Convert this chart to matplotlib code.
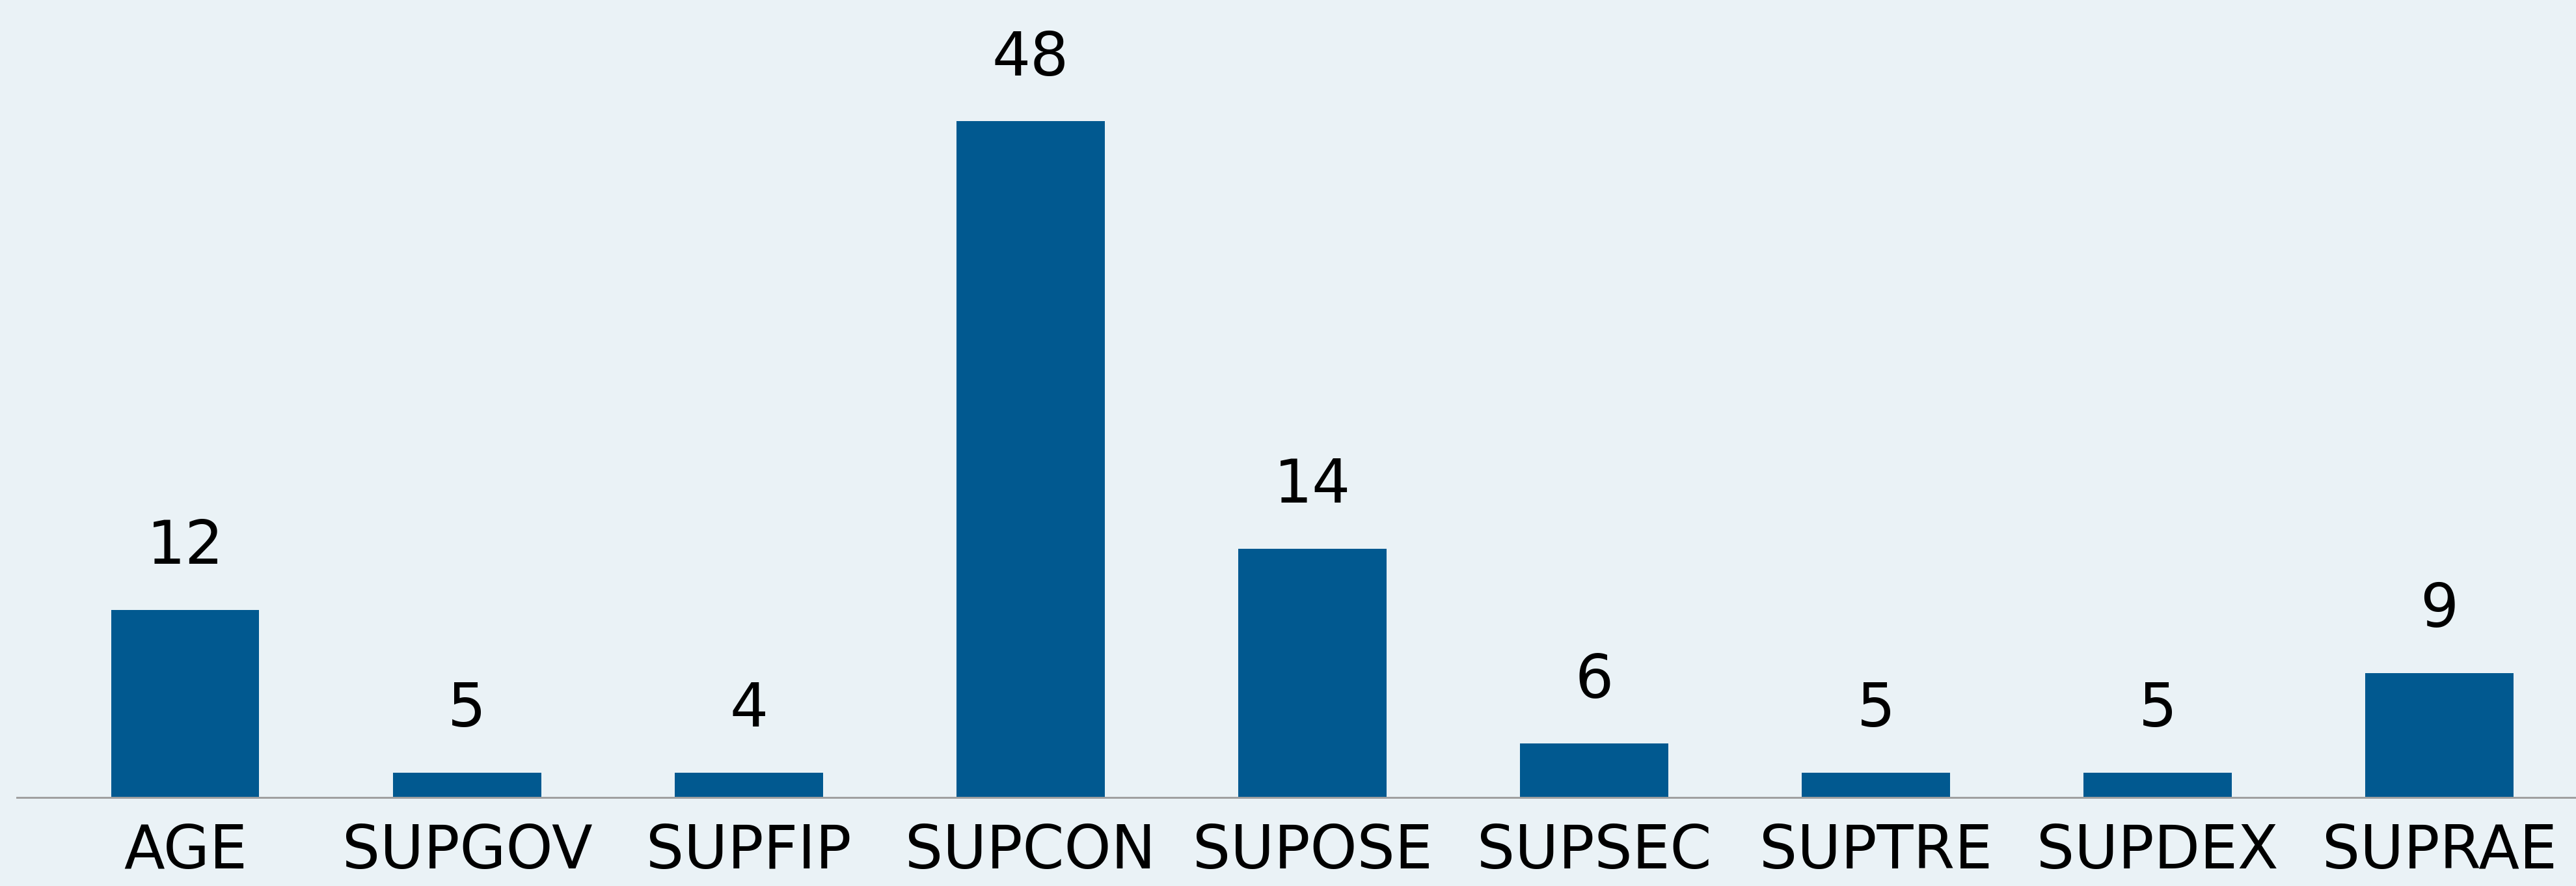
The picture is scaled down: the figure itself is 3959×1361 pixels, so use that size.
import matplotlib.pyplot as plt

# ==== DATA ====
categories = ["AGE", "SUPGOV", "SUPFIP", "SUPCON", "SUPOSE",
              "SUPSEC", "SUPTRE", "SUPDEX", "SUPRAE"]
# bar heights as drawn (scaled so SUPCON = 48)
heights = [13.4, 1.85, 1.85, 48, 17.7, 3.9, 1.85, 1.85, 8.9]
# value labels printed above bars
labels = [12, 5, 4, 48, 14, 6, 5, 5, 9]
# ==============

BG = "#eaf2f6"
BAR = "#015990"
AXIS = "#a0a0a0"

fig = plt.figure(figsize=(39.59, 13.61), dpi=100, facecolor=BG)
ax = fig.add_axes([25 / 3959, 134 / 1361, 1 - 25 / 3959, 1 - 134 / 1361])
ax.set_facecolor(BG)

x = list(range(len(categories)))
ax.bar(x, heights, width=0.525, color=BAR, zorder=2)
ax.axhline(0, color=AXIS, lw=4.3, zorder=3)

for xi, h, lab in zip(x, heights, labels):
    ax.annotate(str(lab), (xi, h), xytext=(0, 51), textcoords="offset points",
                ha="center", va="baseline", fontsize=67, color="black",
                family="DejaVu Sans")

ax.set_xlim(-0.60, 8.485)
ax.set_ylim(0, 56.6)
ax.set_xticks(x)
ax.set_xticklabels(categories, fontsize=66, family="DejaVu Sans")
ax.tick_params(axis="x", length=0, pad=26)
ax.set_yticks([])
for s in ax.spines.values():
    s.set_visible(False)

fig.savefig("out.png", dpi=100, facecolor=BG)
